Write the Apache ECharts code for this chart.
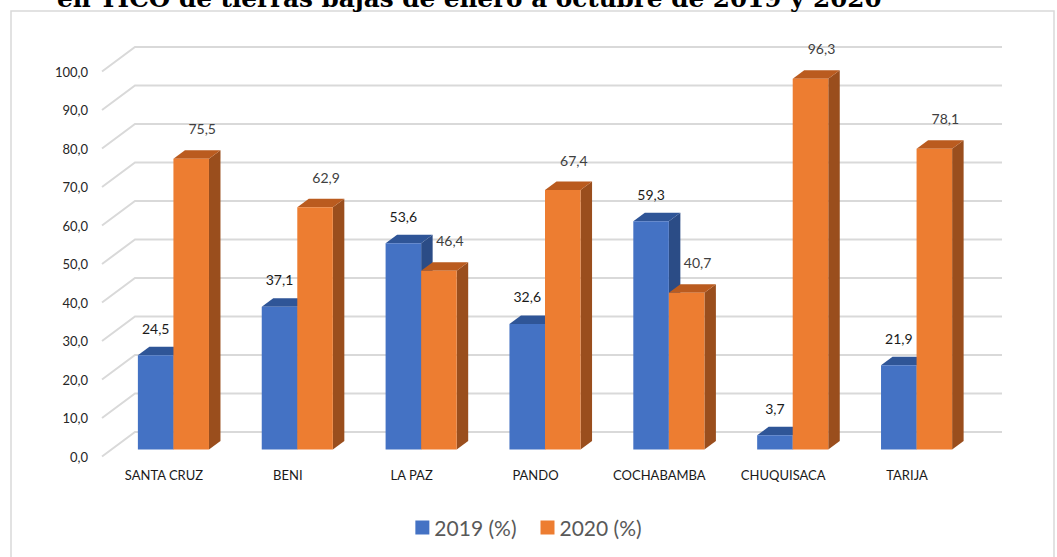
<!DOCTYPE html>
<html>
<head>
<meta charset="utf-8">
<script src="https://cdn.jsdelivr.net/npm/echarts@6/dist/echarts.min.js"></script>
<style>
  html, body { margin: 0; padding: 0; background: #ffffff; }
  #chart { width: 1057px; height: 557px; }
</style>
</head>
<body>
<div id="chart"></div>
<script>
const titleText = 'en TICO de tierras bajas de enero a octubre de 2019 y 2020';
const categories = ['SANTA CRUZ', 'BENI', 'LA PAZ', 'PANDO', 'COCHABAMBA', 'CHUQUISACA', 'TARIJA'];
const values2019 = [24.5, 37.1, 53.6, 32.6, 59.3, 3.7, 21.9];
const values2020 = [75.5, 62.9, 46.4, 67.4, 40.7, 96.3, 78.1];
const seriesNames = ['2019 (%)', '2020 (%)'];
const yTicks = [0, 10, 20, 30, 40, 50, 60, 70, 80, 90, 100];

const FONT = 'Lato, "Open Sans", sans-serif';
const fmt = v => v.toFixed(1).replace('.', ',');

// 3D styling offsets
const WALL_DX = 33, WALL_DY = -24.5;   // back wall depth
const FRONT_DX = 9.5, FRONT_DY = -7;   // bar front plane
const BAR_DX = 11.5, BAR_DY = -8.5;    // bar depth

const palette = [
  { front: '#4472C4', top: '#2F5597', side: '#2B4C86', label: '#1a1a1a', ldx: 0, ldy: -27 },
  { front: '#ED7D31', top: '#BA5B1F', side: '#9A4E1D', label: '#404040', ldx: 11, ldy: -30 }
];

function barRenderer(sIdx) {
  const c = palette[sIdx];
  return function (params, api) {
    const i = api.value(0), v = api.value(1);
    const top = api.coord([i, v]);
    const base = api.coord([i, 0]);
    const band = api.size([1, 0])[0];
    const w = band * 0.287;
    const x0 = top[0] + FRONT_DX - w + sIdx * w;
    const x1 = x0 + w;
    const yt = top[1] + FRONT_DY;
    const yb = base[1] + FRONT_DY;
    return {
      type: 'group',
      children: [
        { type: 'polygon', shape: { points: [[x1, yt], [x1 + BAR_DX, yt + BAR_DY], [x1 + BAR_DX, yb + BAR_DY], [x1, yb]] },
          style: { fill: c.side } },
        { type: 'polygon', shape: { points: [[x0, yt], [x0 + BAR_DX, yt + BAR_DY], [x1 + BAR_DX, yt + BAR_DY], [x1, yt]] },
          style: { fill: c.top } },
        { type: 'rect', shape: { x: x0, y: yt, width: w, height: yb - yt },
          style: { fill: c.front } },
        { type: 'text', x: x0 + w / 2 + c.ldx, y: yt + c.ldy,
          style: { text: fmt(v), fill: c.label, font: '14px ' + FONT, align: 'center', verticalAlign: 'middle' } }
      ]
    };
  };
}

function gridRenderer(params, api) {
  const cs = params.coordSys;
  const y = api.coord([0, api.value(1)])[1];
  return {
    type: 'polyline',
    shape: { points: [[cs.x, y], [cs.x + WALL_DX, y + WALL_DY], [cs.x + cs.width + WALL_DX, y + WALL_DY]] },
    style: { stroke: '#D9D9D9', lineWidth: 2, fill: null }
  };
}

const chart = echarts.init(document.getElementById('chart'), null, { renderer: 'svg' });
chart.setOption({
  backgroundColor: '#ffffff',
  animation: false,
  graphic: [
    { type: 'rect', shape: { x: 11, y: 11, width: 1043, height: 600 },
      style: { fill: '#ffffff', stroke: '#D9D9D9', lineWidth: 1.5 }, z: -10 },
    { type: 'text', x: 57, y: -2,
      style: { text: titleText, font: 'bold 24.7px "DejaVu Serif", serif', fill: '#000000', verticalAlign: 'middle' }, z: 10 }
  ],
  grid: { left: 102, right: 88, top: 71.5, bottom: 100.5 },
  legend: {
    data: seriesNames,
    bottom: 14,
    left: 'center',
    icon: 'rect',
    itemWidth: 14,
    itemHeight: 14,
    itemGap: 24,
    textStyle: { fontFamily: FONT, fontSize: 21, color: '#595959' }
  },
  xAxis: {
    type: 'category',
    data: categories,
    axisLine: { show: false },
    axisTick: { show: false },
    axisLabel: { margin: 12, fontFamily: FONT, fontSize: 13, color: '#1a1a1a' }
  },
  yAxis: {
    type: 'value',
    min: 0, max: 100, interval: 10,
    axisLine: { show: false },
    axisTick: { show: false },
    splitLine: { show: false },
    axisLabel: { margin: 14, fontFamily: FONT, fontSize: 13, color: '#262626', formatter: v => fmt(v) }
  },
  series: [
    { type: 'custom', name: 'grid', renderItem: gridRenderer, data: yTicks.map(v => [0, v]), z: 1, silent: true },
    { type: 'custom', name: seriesNames[0], renderItem: barRenderer(0), itemStyle: { color: palette[0].front },
      data: values2019.map((v, i) => [i, v]), z: 2 },
    { type: 'custom', name: seriesNames[1], renderItem: barRenderer(1), itemStyle: { color: palette[1].front },
      data: values2020.map((v, i) => [i, v]), z: 3 }
  ]
});
</script>
</body>
</html>
